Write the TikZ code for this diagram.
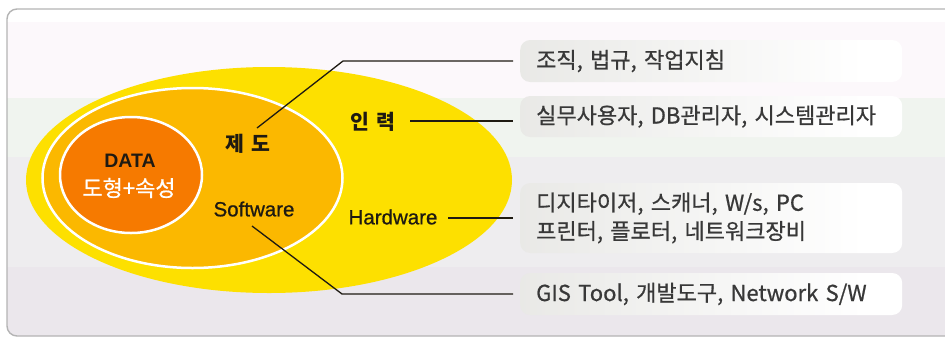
\documentclass[tikz,border=0pt]{standalone}
\usepackage{fontspec}
\setmainfont{Liberation Sans}
\newfontfamily\krfont{Noto Sans CJK KR}
\newfontfamily\krbox[FakeBold=0.7]{Noto Sans CJK KR}
\newfontfamily\semib[FakeBold=0.8]{Liberation Sans}
\definecolor{yel}{HTML}{FDE000}
\definecolor{mid}{HTML}{FBB800}
\definecolor{dataor}{HTML}{F67A00}
\definecolor{framegray}{HTML}{B4B4B4}
\definecolor{bgA}{HTML}{FCF8FB}
\definecolor{bgB}{HTML}{F0F4EF}
\definecolor{bgC}{HTML}{EEEDEF}
\definecolor{bgD}{HTML}{EBE7EC}
\definecolor{ink}{HTML}{1E1A12}
\definecolor{boxink}{HTML}{383838}
\definecolor{boxl}{HTML}{DDDCD8}
\definecolor{boxm}{HTML}{EEEEEC}
\pgfdeclarehorizontalshading{boxshade}{100bp}{color(0bp)=(boxl); color(35bp)=(boxm); color(70bp)=(white); color(100bp)=(white)}
\tikzset{
  lbl/.style={inner sep=0pt, text=ink, font=\semib\fontsize{20.5}{22}\selectfont},
  krlbl/.style={lbl, font=\krfont\bfseries\fontsize{20.5}{22}\selectfont},
  infobox/.style={anchor=west, rounded corners=10pt, shading=boxshade, minimum width=382pt,
    text width=350pt, inner xsep=16pt, inner ysep=0pt, align=left, text=boxink,
    font=\krbox\fontsize{22}{28.5}\selectfont},
  conn/.style={draw=ink, line width=1.3pt, shorten >=7pt}
}
\begin{document}
\begin{tikzpicture}[x=1pt,y=-1pt]
\useasboundingbox (0,0) rectangle (945,338);
\fill[white] (0,0) rectangle (945,338);
\begin{scope}
  \clip[rounded corners=10pt] (7,9) rectangle (965,336);
  \fill[white] (0,0) rectangle (965,22);
  \fill[bgA] (0,22) rectangle (965,98);
  \fill[bgB] (0,98) rectangle (965,157);
  \fill[bgC] (0,157) rectangle (965,267);
  \fill[bgD] (0,267) rectangle (965,340);
\end{scope}
\draw[framegray, line width=1.4pt, rounded corners=10pt] (7,9) rectangle (965,336);

% ellipses
\fill[yel] (269,180) ellipse [x radius=243, y radius=113];
\filldraw[fill=mid, draw=white, line width=2.5pt] (192.5,178) ellipse [x radius=150, y radius=90];
\filldraw[fill=dataor, draw=white, line width=2.5pt] (131,175) ellipse [x radius=71, y radius=58];

% labels
\node[lbl, font=\bfseries\fontsize{19.5}{22}\selectfont] (data) at (130,161) {DATA};
\node[lbl, text=white, font=\krbox\fontsize{22}{22}\selectfont] (dsub) at (129,188) {도형+속성};
\node[krlbl] (jedo) at (248,144) {제\hspace{3pt} 도};
\node[lbl] (sw) at (254,209) {Software};
\node[krlbl] (inr) at (373,122) {인\hspace{3pt} 력};
\node[lbl] (hw) at (393,217) {Hardware};

% boxes
\node[infobox, minimum height=42pt] (b1) at (520,61) {조직, 법규, 작업지침};
\node[infobox, minimum height=41pt] (b2) at (520,116.5) {실무사용자, DB관리자, 시스템관리자};
\node[infobox, minimum height=70pt] (b3) at (520,218) {디지타이저, 스캐너, W/s, PC\\프린터, 플로터, 네트워크장비};
\node[infobox, minimum height=42pt] (b4) at (520,294) {GIS Tool, 개발도구, Network S/W};

% connectors
\coordinate (j0) at (257,128);
\coordinate (j1) at (343,61);
\draw[conn] (j0) -- (j1) -- (b1.west);
\coordinate (i0) at (410,121);
\draw[conn] (i0) -- (i0 -| b2.west);
\coordinate (h0) at (448,218);
\draw[conn] (h0) -- (b3.west);
\coordinate (s0) at (252,226);
\coordinate (s1) at (342,294);
\draw[conn] (s0) -- (s1) -- (b4.west);
\end{tikzpicture}
\end{document}
